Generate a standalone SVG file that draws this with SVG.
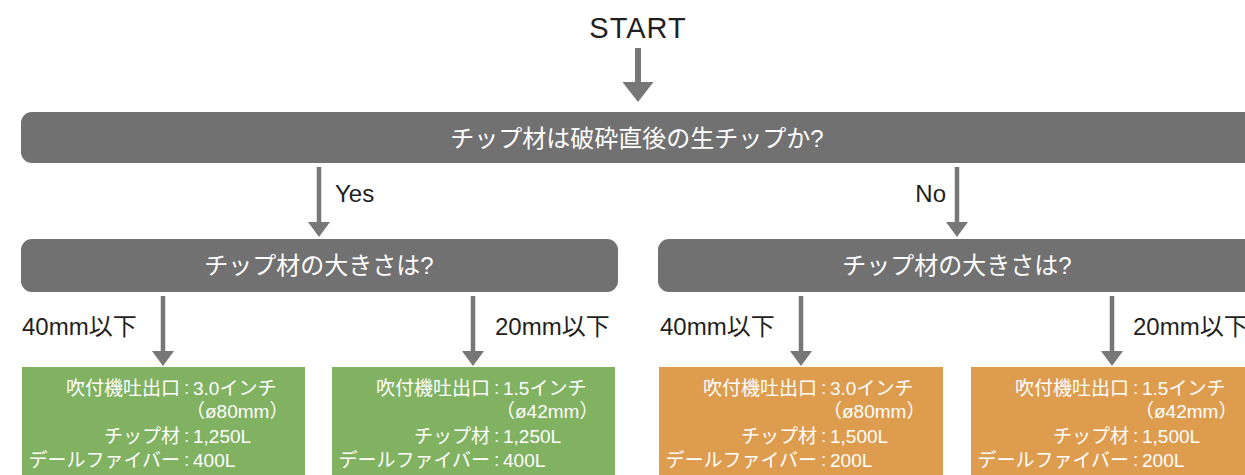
<svg xmlns="http://www.w3.org/2000/svg" width="1245" height="475" viewBox="0 0 1245 475">
<style>
text{font-family:"Liberation Sans","Noto Sans CJK JP",sans-serif;}
.dark{fill:#231f20;font-size:24px;}
.bar{fill:#717171;}
.bt{fill:#ffffff;font-size:24px;text-anchor:middle;}
.green{fill:#80b262;}
.orange{fill:#de9c4e;}
.it{fill:#ffffff;font-size:19px;}
.lbl{text-anchor:end;}
.arr{stroke:#777777;fill:none;}
</style>
<defs>
<marker id="big" markerUnits="userSpaceOnUse" markerWidth="20" markerHeight="31" viewBox="0 0 20 31" refX="0" refY="15.5" orient="auto"><path d="M0,0 L20,15.5 L0,31 z" fill="#777777"/></marker>
<marker id="small" markerUnits="userSpaceOnUse" markerWidth="15" markerHeight="22" viewBox="0 0 15 22" refX="0" refY="11" orient="auto"><path d="M0,0 L15,11 L0,22 z" fill="#777777"/></marker>
</defs>
<g id="start"><text class="dark" x="638" y="38" text-anchor="middle" letter-spacing="1" style="font-size:29px">START</text></g>
<g id="q1"><rect class="bar" x="21" y="112" width="1240" height="51" rx="11"/><text class="bt" x="637" y="147">チップ材は破砕直後の生チップか?</text></g>
<g id="q2"><rect class="bar" x="21" y="239" width="597" height="53" rx="11"/><text class="bt" x="319" y="274">チップ材の大きさは?</text></g>
<g id="q3"><rect class="bar" x="658" y="239" width="610" height="53" rx="11"/><text class="bt" x="957" y="274">チップ材の大きさは?</text></g>
<g id="r1"><rect class="green" x="22" y="367" width="283" height="110"/>
<text class="it lbl" x="180" y="395">吹付機吐出口</text><text class="it" x="184" y="394">:</text><text class="it" x="193" y="395">3.0インチ</text>
<text class="it" x="186" y="418">（ø80mm）</text>
<text class="it lbl" x="180" y="443">チップ材</text><text class="it" x="184" y="442">:</text><text class="it" x="193" y="443">1,250L</text>
<text class="it lbl" x="180" y="467">デールファイバー</text><text class="it" x="184" y="466">:</text><text class="it" x="193" y="467">400L</text></g>
<g id="r2"><rect class="green" x="332" y="367" width="283" height="110"/>
<text class="it lbl" x="490" y="395">吹付機吐出口</text><text class="it" x="494" y="394">:</text><text class="it" x="503" y="395">1.5インチ</text>
<text class="it" x="496" y="418">（ø42mm）</text>
<text class="it lbl" x="490" y="443">チップ材</text><text class="it" x="494" y="442">:</text><text class="it" x="503" y="443">1,250L</text>
<text class="it lbl" x="490" y="467">デールファイバー</text><text class="it" x="494" y="466">:</text><text class="it" x="503" y="467">400L</text></g>
<g id="r3"><rect class="orange" x="659" y="367" width="284" height="110"/>
<text class="it lbl" x="817" y="395">吹付機吐出口</text><text class="it" x="821" y="394">:</text><text class="it" x="830" y="395">3.0インチ</text>
<text class="it" x="823" y="418">（ø80mm）</text>
<text class="it lbl" x="817" y="443">チップ材</text><text class="it" x="821" y="442">:</text><text class="it" x="830" y="443">1,500L</text>
<text class="it lbl" x="817" y="467">デールファイバー</text><text class="it" x="821" y="466">:</text><text class="it" x="830" y="467">200L</text></g>
<g id="r4"><rect class="orange" x="971" y="367" width="290" height="110"/>
<text class="it lbl" x="1129" y="395">吹付機吐出口</text><text class="it" x="1133" y="394">:</text><text class="it" x="1142" y="395">1.5インチ</text>
<text class="it" x="1135" y="418">（ø42mm）</text>
<text class="it lbl" x="1129" y="443">チップ材</text><text class="it" x="1133" y="442">:</text><text class="it" x="1142" y="443">1,500L</text>
<text class="it lbl" x="1129" y="467">デールファイバー</text><text class="it" x="1133" y="466">:</text><text class="it" x="1142" y="467">200L</text></g>
<g id="connectors">
<line class="arr" x1="638" y1="48" x2="638" y2="82" stroke-width="6" marker-end="url(#big)"/>
<line class="arr" x1="319" y1="167" x2="319" y2="222" stroke-width="4.5" marker-end="url(#small)"/>
<line class="arr" x1="957" y1="167" x2="957" y2="222" stroke-width="4.5" marker-end="url(#small)"/>
<line class="arr" x1="163" y1="296" x2="163" y2="351" stroke-width="4.5" marker-end="url(#small)"/>
<line class="arr" x1="473" y1="296" x2="473" y2="351" stroke-width="4.5" marker-end="url(#small)"/>
<line class="arr" x1="801" y1="296" x2="801" y2="351" stroke-width="4.5" marker-end="url(#small)"/>
<line class="arr" x1="1112" y1="296" x2="1112" y2="351" stroke-width="4.5" marker-end="url(#small)"/>
<text class="dark" x="335" y="202">Yes</text>
<text class="dark" x="946" y="202" text-anchor="end">No</text>
<text class="dark" x="22" y="335">40mm以下</text>
<text class="dark" x="495" y="335">20mm以下</text>
<text class="dark" x="660" y="335">40mm以下</text>
<text class="dark" x="1133" y="335">20mm以下</text>
</g>
</svg>
